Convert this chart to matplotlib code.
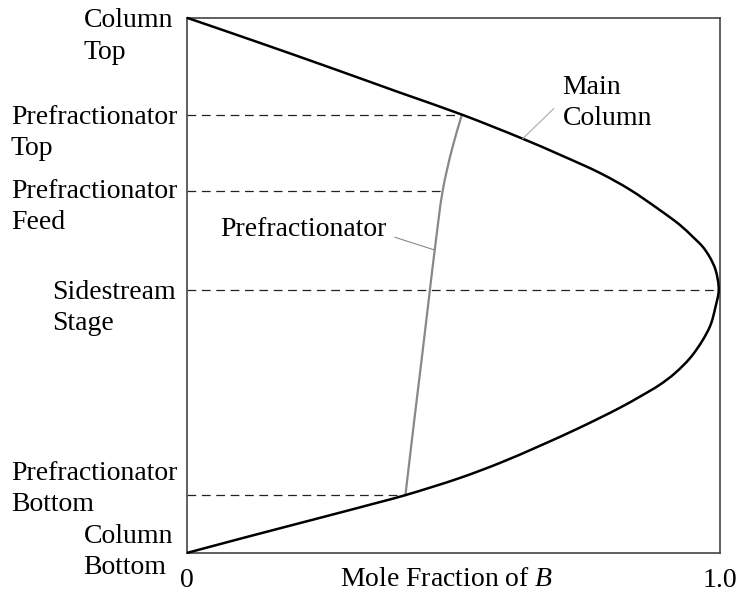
import matplotlib
matplotlib.use("Agg")
import matplotlib.pyplot as plt
import numpy as np
from matplotlib.path import Path
from matplotlib.patches import PathPatch

plt.rcParams['font.family'] = ['Liberation Serif', 'DejaVu Serif']
plt.rcParams['mathtext.fontset'] = 'custom'
plt.rcParams['mathtext.rm'] = 'Liberation Serif'
plt.rcParams['mathtext.it'] = 'Liberation Serif:italic'

# main column composition profile (x = mole fraction of B, y = relative stage height)
main_x = [0.0, 0.137, 0.274, 0.400, 0.516, 0.630, 0.700, 0.775, 0.831, 0.887, 0.925,
          0.949, 0.968, 0.981, 0.992, 0.998, 0.992, 0.981, 0.949, 0.916, 0.887,
          0.850, 0.812, 0.737, 0.662, 0.587, 0.512, 0.410, 0.362, 0.236, 0.113, 0.0]
main_y = [1.0, 0.953, 0.905, 0.860, 0.819, 0.774, 0.744, 0.710, 0.679, 0.641, 0.613,
          0.591, 0.572, 0.553, 0.529, 0.492, 0.460, 0.422, 0.370, 0.336, 0.314,
          0.292, 0.271, 0.234, 0.200, 0.168, 0.140, 0.108, 0.095, 0.062, 0.030, 0.0]

# prefractionator profile
pf_x = [0.516, 0.497, 0.480, 0.465, 0.456, 0.441, 0.426, 0.410]
pf_y = [0.819, 0.753, 0.677, 0.566, 0.492, 0.366, 0.243, 0.108]

stage_labels = ['Column\nTop', 'Prefractionator\nTop', 'Prefractionator\nFeed',
                'Sidestream\nStage', 'Prefractionator\nBottom', 'Column\nBottom']
stage_levels = [1.0, 0.819, 0.677, 0.492, 0.108, 0.0]
dash_levels = [0.819, 0.677, 0.492, 0.108]
dash_ends = [pf_x[0], pf_x[2], 1.0, pf_x[-1]]


def smooth_path(xs, ys, alpha=0.5):
    # centripetal Catmull-Rom through the points, as cubic Bezier segments
    pts = np.column_stack([xs, ys]).astype(float)
    pts = np.vstack([pts[0] - (pts[1] - pts[0]), pts, pts[-1] + (pts[-1] - pts[-2])])
    verts = [tuple(pts[1])]
    codes = [Path.MOVETO]
    for i in range(1, len(pts) - 2):
        p0, p1, p2, p3 = pts[i - 1], pts[i], pts[i + 1], pts[i + 2]
        d0 = np.linalg.norm(p1 - p0) ** alpha
        d1 = np.linalg.norm(p2 - p1) ** alpha
        d2 = np.linalg.norm(p3 - p2) ** alpha
        m1 = ((p1 - p0) / d0 - (p2 - p0) / (d0 + d1) + (p2 - p1) / d1) * d1
        m2 = ((p2 - p1) / d1 - (p3 - p1) / (d1 + d2) + (p3 - p2) / d2) * d1
        verts += [tuple(p1 + m1 / 3), tuple(p2 - m2 / 3), tuple(p2)]
        codes += [Path.CURVE4] * 3
    return Path(verts, codes)


fig = plt.figure(figsize=(7.39, 5.92), dpi=100)
ax = fig.add_axes([0.253, 0.066, 0.721, 0.904])
ax.set_xlim(0, 1)
ax.set_ylim(0, 1)

for y, xe in zip(dash_levels, dash_ends):
    ax.plot([0, xe], [y, y], color='#222222', lw=0.9, ls=(0, (7, 4.5)), zorder=1)

ax.add_patch(PathPatch(smooth_path(main_x, main_y), fill=False, edgecolor='black',
                       lw=1.8, clip_on=False, zorder=3))
ax.add_patch(PathPatch(smooth_path(pf_x, pf_y), fill=False, edgecolor='#888888',
                       lw=1.6, clip_on=False, zorder=2))

fs = 20
ls = 1.32
# stage names down the left side
offsets = [(-10, -13.5), (-7, -13.5), (-7, -12), (-8, -13), (-7, 4.3), (-10, 0.5)]
for lab, y, (dx, dy) in zip(stage_labels, stage_levels, offsets):
    ax.annotate(lab, xy=(0, y), xycoords='data', xytext=(dx, dy),
                textcoords='offset points', ha='right', va='center',
                multialignment='left', fontsize=fs, linespacing=ls,
                annotation_clip=False)

ax.annotate('Main\nColumn', xy=(main_x[5], main_y[5]), xytext=(0.705, 0.841),
            ha='left', va='center', multialignment='left', fontsize=fs,
            linespacing=ls,
            arrowprops=dict(arrowstyle='-', color='#aaaaaa', lw=0.8,
                            relpos=(0, 0.55), shrinkA=6, shrinkB=0))
ax.annotate('Prefractionator', xy=(pf_x[3], pf_y[3]), xytext=(0.375, 0.604),
            ha='right', va='center', fontsize=fs,
            arrowprops=dict(arrowstyle='-', color='#888888', lw=0.8,
                            relpos=(1, 0.3), shrinkA=4, shrinkB=0))

ax.set_xticks([0, 1])
ax.set_xticklabels(['0', '1.0'], fontsize=fs)
ax.set_yticks([])
ax.tick_params(axis='x', length=0, pad=11)
ax.set_xlabel('Mole Fraction of $\\mathit{B}$', fontsize=fs)
ax.xaxis.set_label_coords(0.488, -0.05, transform=ax.transAxes)
ax.xaxis.label.set_va('center')

for s in ax.spines.values():
    s.set_color('#444444')
    s.set_linewidth(1.2)

fig.savefig('out.png', dpi=100)
